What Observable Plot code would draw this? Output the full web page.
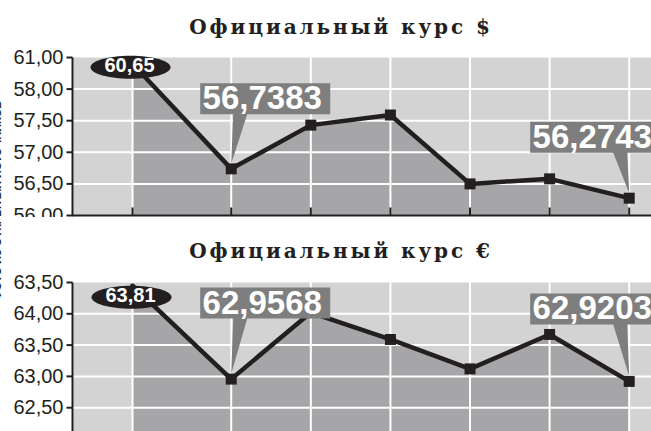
<!DOCTYPE html>
<html><head><meta charset="utf-8">
<script src="https://cdn.jsdelivr.net/npm/d3@7"></script>
<script src="https://cdn.jsdelivr.net/npm/@observablehq/plot@0.6"></script>
<style>
html,body{margin:0;padding:0;background:#fff;}
#wrap{position:relative;width:651px;height:431px;overflow:hidden;background:#fff;}
#wrap svg{position:absolute;left:0;background:transparent;}
.title{position:absolute;left:0;width:682px;text-align:center;font:bold 20px/20px "DejaVu Serif",serif;
  letter-spacing:2.9px;color:#231f20;white-space:nowrap;}
#credit{position:absolute;left:-9px;top:300px;transform-origin:0 0;transform:rotate(-90deg);
  font:bold 11px "Liberation Sans",sans-serif;color:#231f20;white-space:nowrap;-webkit-font-smoothing:antialiased;}
</style></head>
<body><div id="wrap"><div id="credit">ФОТО ИЗ ОТКРЫТЫХ ИСТОЧНИКОВ</div></div>
<script>
// ---- data ----
// horizontal placement of the quotation dates: 1 January, then a break, then consecutive days
const slots = [0, 1.24, 2.24, 3.24, 4.24, 5.24, 6.24];
const usdRates = [60.65, 56.7383, 57.43, 57.59, 56.50, 56.58, 56.2743];
const eurRates = [63.81, 62.9568, 64.02, 63.59, 63.12, 63.67, 62.9203];
const usdTicks = [56, 56.5, 57, 57.5, 58, 58.5];
const usdTickLabels = ["56,00", "56,50", "57,00", "57,50", "58,00", "61,00"];
const eurTicks = [62, 62.5, 63, 63.5, 64, 64.5];
const eurTickLabels = ["62,00", "62,50", "63,00", "63,50", "64,00", "63,50"];
const usdBreakY = 58.4;   // off-scale first value drawn at the axis break
const eurBreakY = 64.45;
const titles = ["Официальный курс $", "Официальный курс €"];

// ---- style ----
const LIGHT = "#d3d3d4", DARK = "#a6a6a8", BOX = "#7e7e7e", INK = "#231f20";
const X_DOMAIN = [-0.754, 6.52];

function sym(fn) { return {draw: fn}; }
const tickUp = sym(c => { c.moveTo(0, 0); c.lineTo(0, -8); });
const hTick = sym(c => { c.moveTo(-6, 0); c.lineTo(0, 0); });
const vLine = h => sym(c => { c.moveTo(0, 0); c.lineTo(0, -h); });
function callout(side, lift) {
  const w = 130, h = 31, cx = side === "right" ? 34 : -34;
  const x0 = cx - w / 2, x1 = cx + w / 2, y0 = lift - h / 2, y1 = lift + h / 2;
  const [b0, b1] = side === "right" ? [2, 16] : [-16, -2];
  return sym(c => {
    c.moveTo(x0, y0); c.lineTo(x1, y0); c.lineTo(x1, y1); c.lineTo(b1, y1);
    c.lineTo(0, -5); c.lineTo(b0, y1); c.lineTo(x0, y1); c.closePath();
  });
}
function ellipse(rx, ry, ox, oy) {
  const k = 0.5522847;
  return sym(c => {
    c.moveTo(ox + rx, oy);
    c.bezierCurveTo(ox + rx, oy + k * ry, ox + k * rx, oy + ry, ox, oy + ry);
    c.bezierCurveTo(ox - k * rx, oy + ry, ox - rx, oy + k * ry, ox - rx, oy);
    c.bezierCurveTo(ox - rx, oy - k * ry, ox - k * rx, oy - ry, ox, oy - ry);
    c.bezierCurveTo(ox + k * rx, oy - ry, ox + rx, oy - k * ry, ox + rx, oy);
    c.closePath();
  });
}
const fmt4 = v => v.toFixed(4).replace(".", ",");
const fmt2 = v => v.toFixed(2).replace(".", ",");

function panel(o) {
  const data = o.rates.map((v, i) => ({slot: slots[i], rate: v, yPos: i === 0 ? o.breakY : v}));
  const yLo = o.ticks[0], yHi = o.ticks[o.ticks.length - 1];
  const frameH = o.height - o.marginTop - o.marginBottom;
  const marks = [
    Plot.frame({fill: LIGHT, stroke: "none"}),
    Plot.areaY(data, {x: "slot", y1: yLo, y2: "yPos", fill: DARK}),
    Plot.ruleY(o.ticks.slice(1, -1), {stroke: "white", strokeWidth: 2}),
    Plot.ruleX(data, {x: "slot", stroke: "white", strokeWidth: 2}),
    Plot.lineY(data, {x: "slot", y: "yPos", stroke: INK, strokeWidth: 4.5}),
    Plot.dot(data.slice(1), {x: "slot", y: "yPos", symbol: "square", r: 6.2, fill: INK, stroke: "none"}),
    Plot.dot(data, {x: "slot", frameAnchor: "bottom", symbol: tickUp, fill: "none", stroke: INK, strokeWidth: 2}),
    Plot.ruleY([yLo], {stroke: INK, strokeWidth: 2}),
    Plot.dot([0], {frameAnchor: "bottom-left", symbol: vLine(frameH), fill: "none", stroke: INK, strokeWidth: 2}),
    Plot.dot(o.ticks, {y: d => d, frameAnchor: "left", symbol: hTick, fill: "none", stroke: INK, strokeWidth: 2}),
    Plot.text(o.ticks, {y: d => d, frameAnchor: "left", text: (d, i) => o.tickLabels[i], textAnchor: "end",
      dx: -9, fontSize: 20, fontFamily: "Liberation Sans", fill: INK})
  ];
  for (const c of o.callouts) {
    const d = data[c.index];
    marks.push(Plot.dot([d], {x: "slot", y: "yPos", symbol: callout(c.side, c.lift), fill: BOX, stroke: "none"}));
    marks.push(Plot.text([d], {x: "slot", y: "yPos", text: e => fmt4(e.rate), dx: c.side === "right" ? 31 : -37,
      dy: c.lift, fontSize: 33, fontWeight: "bold", fontFamily: "Liberation Sans", fill: "white"}));
  }
  const f = data[0];
  marks.push(Plot.dot([f], {x: "slot", y: "yPos", symbol: ellipse(40, 11.5, o.ell[0], o.ell[1]), fill: INK, stroke: "none"}));
  marks.push(Plot.text([f], {x: "slot", y: "yPos", text: e => fmt2(e.rate), dx: o.ell[0] - 1, dy: o.ell[1] - 2,
    fontSize: 20, fontWeight: "bold", fontFamily: "Liberation Sans", fill: "white"}));

  const svg = Plot.plot({
    width: 651, height: o.height, marginTop: o.marginTop, marginBottom: o.marginBottom,
    marginLeft: 72, marginRight: 0,
    x: {domain: X_DOMAIN, axis: null},
    y: {domain: [yLo, yHi], axis: null},
    marks
  });
  svg.style.top = o.top + "px";
  const wrap = document.getElementById("wrap");
  wrap.appendChild(svg);
  const t = document.createElement("div");
  t.className = "title";
  t.style.top = o.titleTop + "px";
  t.textContent = o.title;
  wrap.appendChild(t);
}

panel({rates: usdRates, breakY: usdBreakY, ticks: usdTicks, tickLabels: usdTickLabels, title: titles[0],
  top: 0, height: 217, marginTop: 57, marginBottom: 2, titleTop: 17, ell: [-2, 3.5],
  callouts: [{index: 1, side: "right", lift: -70}, {index: 6, side: "left", lift: -61}]});
panel({rates: eurRates, breakY: eurBreakY, ticks: eurTicks, tickLabels: eurTickLabels, title: titles[1],
  top: 217, height: 231, marginTop: 65, marginBottom: 9.5, titleTop: 241, ell: [-1, 11.5],
  callouts: [{index: 1, side: "right", lift: -76}, {index: 6, side: "left", lift: -72.5}]});
</script>
</body></html>
